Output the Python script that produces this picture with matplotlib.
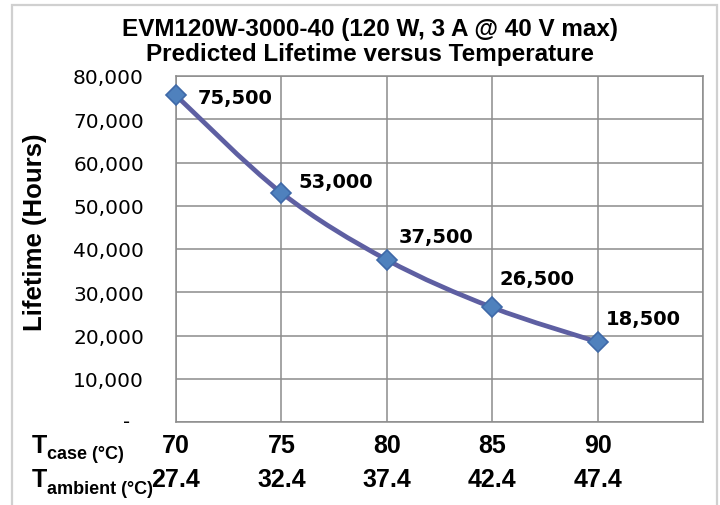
import matplotlib
matplotlib.use("Agg")
import matplotlib.pyplot as plt
from matplotlib.path import Path
from matplotlib.patches import PathPatch, Rectangle
import matplotlib.transforms as mtransforms

# ---- data ----
t_case = [70, 75, 80, 85, 90]
t_ambient = ["27.4", "32.4", "37.4", "42.4", "47.4"]
lifetime = [75500, 53000, 37500, 26500, 18500]
y_ticks = [0, 10000, 20000, 30000, 40000, 50000, 60000, 70000, 80000]
title1 = "EVM120W-3000-40 (120 W, 3 A @ 40 V max)"
title2 = "Predicted Lifetime versus Temperature"
ylabel = "Lifetime (Hours)"

# ---- style ----
W, H = 720, 506
DPI = 100
line_color = "#5E5FA2"
marker_face = "#4F81BD"
marker_edge = "#3F69A8"
grid_color = "#8C8C8C"
label_offsets_px = [(22, -2), (17, 11), (12, 23), (7, 29), (8, 23)]

fig = plt.figure(figsize=(W / DPI, H / DPI), dpi=DPI)
fig.patch.set_facecolor("white")

# outer chart border
fig.patches.append(Rectangle((12 / W, -0.05), (717 - 12) / W, 1 - 6 / H + 0.05,
                             transform=fig.transFigure, fill=False,
                             edgecolor="#D0D0D0", linewidth=1.6))

left, right, top, bottom = 176, 703, 77, 423
ax = fig.add_axes([left / W, 1 - bottom / H, (right - left) / W, (bottom - top) / H])
ax.set_xlim(70, 95)
ax.set_ylim(0, 80000)
ax.set_xticks([70, 75, 80, 85, 90, 95])
ax.set_yticks(y_ticks)
ax.grid(True, color=grid_color, linewidth=1.1)
ax.set_axisbelow(True)
for s in ax.spines.values():
    s.set_color(grid_color)
    s.set_linewidth(1.1)
ax.tick_params(axis="both", length=0)
ax.set_xticklabels([])
ylabels = ["" if v == 0 else f"{v:,}" for v in y_ticks]
ax.set_yticklabels(ylabels, fontsize=14.5, family="DejaVu Sans")
ax.tick_params(axis="y", pad=(left - 144) * 72 / DPI)

# dash for zero
ax.text(-(left - 127) / (right - left), 0, "-",
        transform=mtransforms.blended_transform_factory(ax.transAxes, ax.transData),
        ha="center", va="center", fontsize=14, family="DejaVu Sans")

# smoothed line (Bezier through the data points)
pts = list(zip(t_case, lifetime))
n = len(pts)
verts = [pts[0]]
codes = [Path.MOVETO]
for i in range(n - 1):
    p0 = pts[i - 1] if i > 0 else pts[i]
    p1 = pts[i]
    p2 = pts[i + 1]
    p3 = pts[i + 2] if i + 2 < n else pts[i + 1]
    c1 = (p1[0] + (p2[0] - p0[0]) / 6, p1[1] + (p2[1] - p0[1]) / 6)
    c2 = (p2[0] - (p3[0] - p1[0]) / 6, p2[1] - (p3[1] - p1[1]) / 6)
    verts += [c1, c2, p2]
    codes += [Path.CURVE4] * 3
ax.add_patch(PathPatch(Path(verts, codes), facecolor="none", edgecolor=line_color,
                       linewidth=3.4, capstyle="round", joinstyle="round", zorder=3))
ax.plot(t_case, lifetime, linestyle="none", marker="D", markersize=10.5,
        markerfacecolor=marker_face, markeredgecolor=marker_edge, markeredgewidth=1.2,
        zorder=4, clip_on=False)

# data labels
for x, y, (dx, dy) in zip(t_case, lifetime, label_offsets_px):
    ax.annotate(f"{y:,}", (x, y), xytext=(dx * 72 / DPI, dy * 72 / DPI),
                textcoords="offset points", ha="left", va="center",
                fontsize=14, fontweight="bold", family="DejaVu Sans", zorder=5)

# titles
fig.text(370 / W, 1 - 36 / H, title1, ha="center", va="baseline",
         fontsize=17.5, fontweight="bold", family="Liberation Sans")
fig.text(370 / W, 1 - 61 / H, title2, ha="center", va="baseline",
         fontsize=17.5, fontweight="bold", family="Liberation Sans")

# y label
fig.text(35 / W, 1 - 232 / H, ylabel, rotation=90, ha="center", va="center",
         fontsize=18.5, fontweight="bold", family="Liberation Sans")

# bottom rows
bt = mtransforms.blended_transform_factory(ax.transData, fig.transFigure)
for x, a in zip(t_case, t_ambient):
    ax.text(x, 1 - 453 / H, str(x), transform=bt, ha="center", va="baseline",
            fontsize=18, fontweight="bold", family="Liberation Sans", clip_on=False)
    ax.text(x, 1 - 487 / H, a, transform=bt, ha="center", va="baseline",
            fontsize=18, fontweight="bold", family="Liberation Sans", clip_on=False)

fig.text(32 / W, 1 - 453 / H, "T", ha="left", va="baseline", fontsize=18,
         fontweight="bold", family="Liberation Sans")
fig.text(47 / W, 1 - 459 / H, "case (°C)", ha="left", va="baseline", fontsize=13,
         fontweight="bold", family="Liberation Sans")
fig.text(32 / W, 1 - 487 / H, "T", ha="left", va="baseline", fontsize=18,
         fontweight="bold", family="Liberation Sans")
fig.text(47 / W, 1 - 494 / H, "ambient (°C)", ha="left", va="baseline", fontsize=13,
         fontweight="bold", family="Liberation Sans")

fig.savefig("out.png", dpi=DPI, facecolor="white")
